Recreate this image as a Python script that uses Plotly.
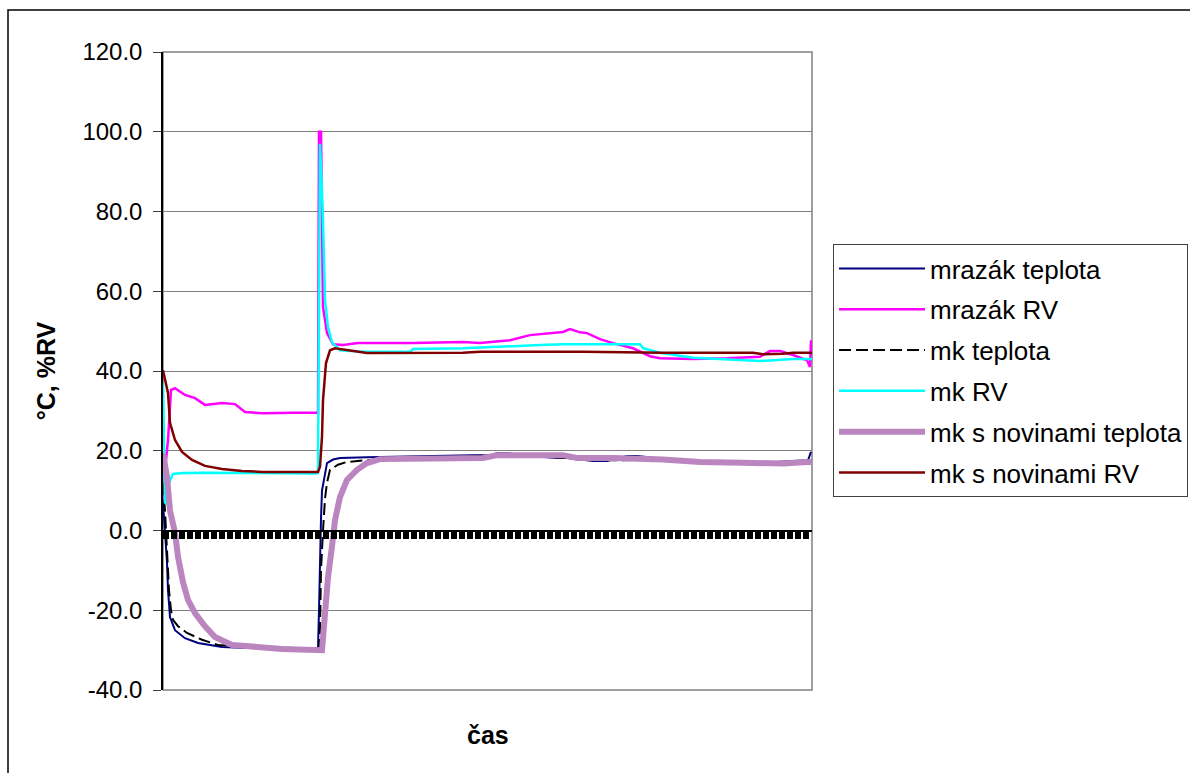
import plotly.graph_objects as go

# ---- data (x = time index, y = value) ----
mrazak_t_x = [0, 2, 4, 5, 7, 12, 22, 35, 59, 92, 155, 156, 157, 158, 159, 161, 164, 170, 177, 204,
              252, 280, 310, 327, 334, 344, 360, 394, 404, 430, 444, 464, 474, 500, 537, 580, 620, 630, 645, 648]
mrazak_t_y = [7, 0, -8, -15, -21.7, -25, -27, -28.2, -29.2, -29.5, -29.6, -20, -5, 3, 10, 13, 16.9, 17.8, 18.2, 18.4,
              18.7, 18.7, 18.9, 18.9, 19.4, 19.4, 18.8, 18.2, 18.2, 17.4, 17.4, 18.7, 18.7, 18.0, 17.2, 16.7, 17.4, 17.4, 17.6, 19.7]

mrazak_rv_x = [0, 2, 5, 8, 12, 22, 32, 42, 59, 72, 82, 100, 130, 155, 156, 158, 160, 164, 170, 180, 195,
               250, 300, 317, 347, 367, 400, 407, 417, 424, 437, 450, 470, 487, 497, 530, 564, 597, 607, 617, 630, 644, 647, 648, 649]
mrazak_rv_y = [7.6, 15, 22.7, 35.2, 35.7, 34, 33.2, 31.5, 32, 31.7, 29.7, 29.4, 29.5, 29.5, 100, 100, 56, 49.5, 46.7, 46.5, 47,
               47, 47.3, 47, 47.7, 49, 49.8, 50.5, 49.7, 49.5, 48, 47, 45.7, 43.7, 43.2, 43, 43.2, 43.6, 45, 45, 44, 42.7, 41, 47.7, 44]

mk_t_x = [0, 2, 4, 6, 8, 10, 15, 24, 39, 55, 90, 156, 157, 158, 160, 162, 164, 167, 175, 184, 217,
          300, 340, 400, 450, 500, 560, 600, 649]
mk_t_y = [12, 5, -5, -15, -20, -22.4, -24, -25.7, -27.4, -28.7, -29.3, -29.6, -25, -10, 0, 8, 12, 15.2, 16.5, 17.2, 17.9,
          18.5, 19, 18.2, 17.6, 17.8, 17, 16.8, 17.5]

mk_rv_x = [0, 1, 2, 4, 6, 10, 20, 40, 100, 153, 155, 156, 157, 159, 160, 162, 165, 169, 177, 200,
           247, 250, 300, 377, 400, 477, 480, 497, 530, 597, 630, 649]
mk_rv_y = [37, 20, 7, 6.5, 12, 14.2, 14.4, 14.5, 14.3, 14.3, 14.5, 60, 97, 85, 77.8, 57.8, 51, 47.2, 45.2, 44.8,
           44.8, 45.5, 45.7, 46.5, 46.7, 46.7, 45.7, 44.6, 43.3, 42.5, 43, 43]

mkn_t_x = [0, 4, 7, 12, 15, 20, 25, 32, 42, 52, 69, 89, 119, 159, 162, 165, 169, 172, 177, 184, 194, 204, 217,
           237, 260, 320, 334, 400, 414, 450, 500, 537, 580, 604, 620, 640, 649]
mkn_t_y = [19.4, 13.4, 5, -0.6, -6.6, -13, -17.4, -20.7, -24, -26.7, -28.7, -29.2, -29.7, -30, -20.7, -11.7, -4, 2.6, 8.4, 12.7, 15.2, 16.9, 17.9,
           17.9, 18.2, 18.2, 18.9, 18.9, 18.2, 18.2, 17.8, 17.2, 17.0, 16.7, 16.8, 17.1, 17.2]

mkn_rv_x = [0, 2, 5, 7, 12, 19, 29, 42, 59, 79, 100, 155, 157, 159, 160, 163, 167, 172, 187, 204,
            300, 317, 420, 500, 590, 600, 620, 630, 649]
mkn_rv_y = [40.2, 38, 34.5, 27, 22.7, 19.7, 17.7, 16.2, 15.4, 14.9, 14.7, 14.7, 16, 23.5, 32.7, 42, 45.2, 45.7, 45.2, 44.5,
            44.6, 44.8, 44.8, 44.6, 44.6, 44.2, 44.3, 44.6, 44.6]

y_ticks = [-40, -20, 0, 20, 40, 60, 80, 100, 120]
y_tick_labels = ["-40.0", "-20.0", "0.0", "20.0", "40.0", "60.0", "80.0", "100.0", "120.0"]

names = ["mrazák teplota", "mrazák RV", "mk teplota", "mk RV", "mk s novinami teplota", "mk s novinami RV"]

FONT = "Liberation Sans, Arial, sans-serif"

fig = go.Figure()
series = [
    (mrazak_t_x, mrazak_t_y, dict(color="#000080", width=2)),
    (mrazak_rv_x, mrazak_rv_y, dict(color="#FF00FF", width=2.5)),
    (mk_t_x, mk_t_y, dict(color="#000000", width=2, dash="12px,5px")),
    (mk_rv_x, mk_rv_y, dict(color="#00FFFF", width=2.5)),
    (mkn_t_x, mkn_t_y, dict(color="#BB85C0", width=6)),
    (mkn_rv_x, mkn_rv_y, dict(color="#800000", width=2.5)),
]
for i, (xs, ys, ln) in enumerate(series):
    fig.add_trace(go.Scatter(x=xs, y=ys, mode="lines", name=names[i], line=ln,
                             legendgroup=names[i]))

fig.update_layout(
    width=1190, height=773,
    margin=dict(l=163, r=378, t=52, b=83, autoexpand=False),
    paper_bgcolor="white", plot_bgcolor="white",
    font=dict(family=FONT, size=24, color="black"),
    showlegend=True,
    legend=dict(x=1.0324, y=0.699, xanchor="left", yanchor="top",
                bordercolor="#404040", borderwidth=1, bgcolor="white",
                font=dict(size=26), tracegroupgap=4, itemwidth=86),
    xaxis=dict(range=[0, 649], anchor="free", position=0.25,
               showline=True, linecolor="black", linewidth=2,
               ticks="outside", ticklen=7, tickwidth=6, tickcolor="black",
               dtick=8, tick0=3, showticklabels=False, showgrid=False, zeroline=False),
    yaxis=dict(range=[-40, 120], tickvals=y_ticks, ticktext=y_tick_labels,
               showline=True, linecolor="black", linewidth=1.5,
               ticks="outside", ticklen=8, tickcolor="#404040",
               showgrid=True, gridcolor="#808080", gridwidth=1, zeroline=False,
               ticklabelstandoff=6,
               title=dict(text="<b>°C, %RV</b>", font=dict(size=25), standoff=20)),
    shapes=[
        dict(type="rect", xref="paper", yref="paper", x0=0, x1=1, y0=0, y1=1,
             line=dict(color="#808080", width=1.5), layer="below"),
        dict(type="rect", xref="paper", yref="paper",
             x0=(8 - 163) / 649, x1=(1200 - 163) / 649,
             y0=(690 - 780) / 638, y1=(690 - 10) / 638,
             line=dict(color="black", width=1.5)),
    ],
    annotations=[dict(text="<b>čas</b>", xref="paper", yref="paper", x=0.5, y=(690 - 735) / 638,
                      showarrow=False, font=dict(size=25), yanchor="middle")],
)

fig.write_html("out.html")
